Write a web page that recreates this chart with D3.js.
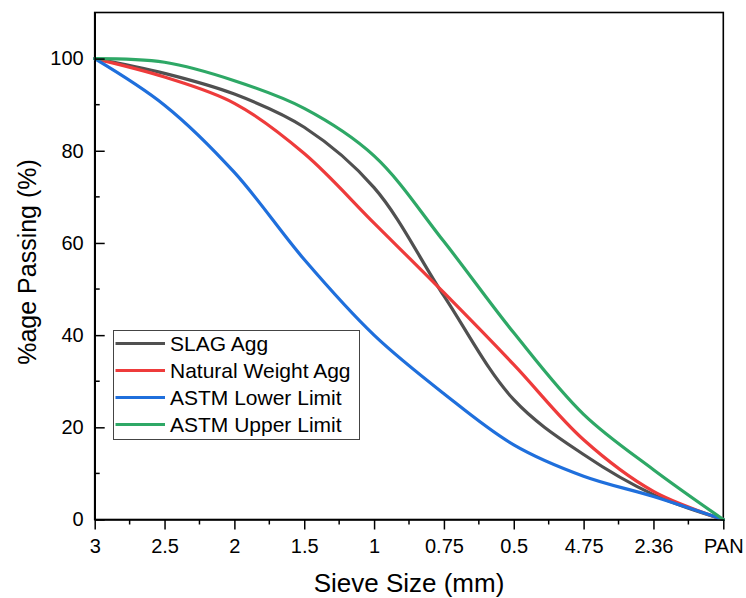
<!DOCTYPE html>
<html>
<head>
<meta charset="utf-8">
<script src="https://cdn.jsdelivr.net/npm/d3@7"></script>
<style>
  html, body { margin: 0; padding: 0; background: #fff; }
  svg { display: block; font-family: Arial, "Liberation Sans", sans-serif; }
</style>
</head>
<body>
<svg id="chart" width="746" height="598"></svg>
<script>
// ---- data ----
const categories = ["3", "2.5", "2", "1.5", "1", "0.75", "0.5", "4.75", "2.36", "PAN"];
const slagAgg     = [100, 96.8, 92.3, 85.1, 72.0, 48.5, 26.0, 14.1, 5.4, 0];
const naturalAgg  = [100, 96.0, 90.3, 79.4, 64.3, 49.2, 33.6, 17.3, 6.1, 0];
const astmLower   = [100, 89.9, 75.3, 56.4, 40.0, 27.3, 16.2, 9.4, 5.0, 0];
const astmUpper   = [100, 99.2, 95.2, 89.2, 78.9, 60.3, 40.5, 22.8, 10.8, 0];
const seriesNames = ["SLAG Agg", "Natural Weight Agg", "ASTM Lower Limit", "ASTM Upper Limit"];
const seriesColors = ["#505050", "#ee3b3b", "#1f6fdc", "#2ea866"];
const yTicks = [0, 20, 40, 60, 80, 100];
const yMinorTicks = [10, 30, 50, 70, 90];

const series = [slagAgg, naturalAgg, astmLower, astmUpper];

// ---- layout ----
const svg = d3.select("#chart");
const pLeft = 94.7, pRight = 723.3, pTop = 12.5, pBottom = 519.5;

const x = d3.scalePoint().domain(categories).range([pLeft, pRight]);
const y = d3.scaleLinear().domain([0, 110]).range([pBottom, pTop]);

// frame
svg.append("rect")
  .attr("x", pLeft).attr("y", pTop)
  .attr("width", pRight - pLeft).attr("height", pBottom - pTop)
  .attr("fill", "none").attr("stroke", "#000").attr("stroke-width", 1.6);

// lines
const line = d3.line()
  .x((d, i) => x(categories[i]))
  .y(d => y(d))
  .curve(d3.curveCatmullRom.alpha(0.5));

series.forEach((s, k) => {
  svg.append("path")
    .datum(s)
    .attr("d", line)
    .attr("fill", "none")
    .attr("stroke", seriesColors[k])
    .attr("stroke-width", 3.2)
    .attr("stroke-linejoin", "round")
    .attr("stroke-linecap", "round");
});

// x axis
const xAxis = d3.axisBottom(x).tickSizeInner(10).tickSizeOuter(0).tickPadding(9);
const gx = svg.append("g").attr("transform", `translate(0,${pBottom})`).call(xAxis);
gx.select(".domain").attr("stroke", "#000").attr("stroke-width", 1.6);
gx.selectAll(".tick line").attr("stroke", "#000").attr("stroke-width", 1.5);
gx.selectAll(".tick text").attr("font-size", 20).attr("fill", "#000")
  .attr("font-family", "Arial, 'Liberation Sans', sans-serif");
// x minor ticks
const step = x.step();
categories.slice(0, -1).forEach(c => {
  svg.append("line")
    .attr("x1", x(c) + step / 2).attr("x2", x(c) + step / 2)
    .attr("y1", pBottom).attr("y2", pBottom + 5)
    .attr("stroke", "#000").attr("stroke-width", 1.5);
});

// y axis (ticks pointing inward)
const yAxis = d3.axisLeft(y).tickValues(yTicks).tickSizeInner(-10).tickSizeOuter(0).tickPadding(11);
const gy = svg.append("g").attr("transform", `translate(${pLeft},0)`).call(yAxis);
gy.select(".domain").attr("stroke", "#000").attr("stroke-width", 1.6);
gy.selectAll(".tick line").attr("stroke", "#000").attr("stroke-width", 1.5);
gy.selectAll(".tick text").attr("font-size", 20).attr("fill", "#000")
  .attr("x", -11)
  .attr("font-family", "Arial, 'Liberation Sans', sans-serif");
yMinorTicks.forEach(v => {
  svg.append("line")
    .attr("x1", pLeft).attr("x2", pLeft + 5)
    .attr("y1", y(v)).attr("y2", y(v))
    .attr("stroke", "#000").attr("stroke-width", 1.5);
});

// axis titles
svg.append("text")
  .attr("x", (pLeft + pRight) / 2).attr("y", 592)
  .attr("text-anchor", "middle").attr("font-size", 26).attr("fill", "#000")
  .text("Sieve Size (mm)");
svg.append("text")
  .attr("transform", `translate(36,${(pTop + pBottom) / 2 - 4}) rotate(-90)`)
  .attr("text-anchor", "middle").attr("font-size", 25).attr("fill", "#000")
  .text("%age Passing (%)");

// legend
const lg = svg.append("g");
lg.append("rect")
  .attr("x", 113.5).attr("y", 330.5).attr("width", 246).attr("height", 109)
  .attr("fill", "#fff").attr("stroke", "#444").attr("stroke-width", 1);
seriesNames.forEach((name, k) => {
  const cy = 343.5 + k * 27;
  lg.append("line")
    .attr("x1", 115.5).attr("x2", 165).attr("y1", cy).attr("y2", cy)
    .attr("stroke", seriesColors[k]).attr("stroke-width", 3.2);
  lg.append("text")
    .attr("x", 170).attr("y", cy).attr("dy", "0.36em")
    .attr("font-size", 21).attr("fill", "#000")
    .text(name);
});
</script>
</body>
</html>
